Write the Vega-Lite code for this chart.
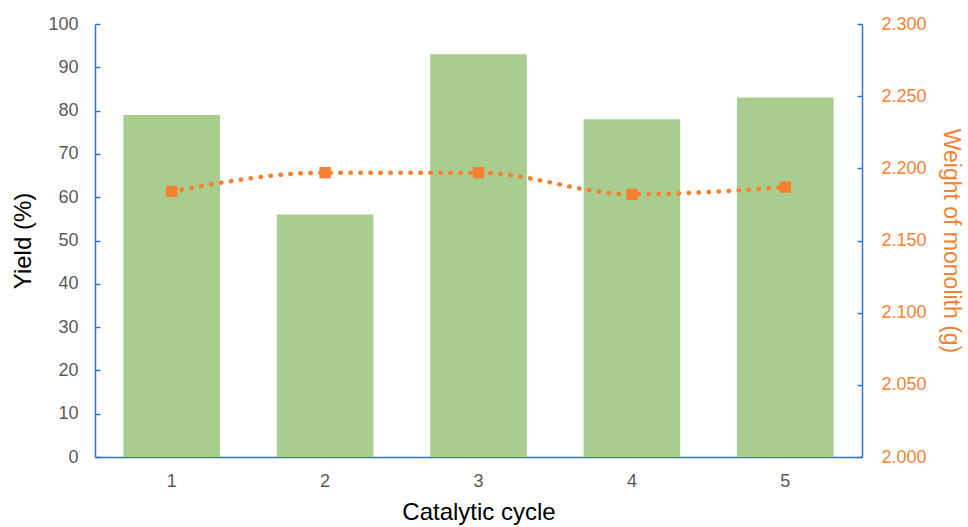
{
  "$schema": "https://vega.github.io/schema/vega-lite/v6.json",
  "width": 767,
  "height": 433,
  "autosize": {"type": "none"},
  "padding": {"left": 95, "top": 24, "right": 106, "bottom": 70},
  "background": "white",
  "config": {
    "view": {"stroke": null},
    "font": "Liberation Sans",
    "axis": {"grid": false, "labelFont": "Liberation Sans", "titleFont": "Liberation Sans", "titleFontWeight": "normal"}
  },
  "data": {
    "values": [
      {"cycle": "1", "yield": 79, "weight": 2.184},
      {"cycle": "2", "yield": 56, "weight": 2.197},
      {"cycle": "3", "yield": 93, "weight": 2.197},
      {"cycle": "4", "yield": 78, "weight": 2.182},
      {"cycle": "5", "yield": 83, "weight": 2.187}
    ]
  },
  "encoding": {
    "x": {
      "field": "cycle",
      "type": "ordinal",
      "scale": {"paddingInner": 0.37, "paddingOuter": 0.185},
      "axis": {
        "title": "Catalytic cycle",
        "labelAngle": 0,
        "labelFontSize": 18,
        "labelColor": "#595959",
        "labelPadding": 15,
        "ticks": false,
        "domainColor": "#3071D1",
        "domainWidth": 1.5,
        "titleFontSize": 24,
        "titleColor": "#000000",
        "titlePadding": 10
      }
    }
  },
  "layer": [
    {
      "mark": {"type": "bar", "color": "#A9CD8F"},
      "encoding": {
        "y": {
          "field": "yield",
          "type": "quantitative",
          "scale": {"domain": [0, 100], "nice": false},
          "axis": {
            "title": "Yield (%)",
            "values": [0, 10, 20, 30, 40, 50, 60, 70, 80, 90, 100],
            "labelFontSize": 18,
            "labelColor": "#595959",
            "tickSize": -5,
            "tickColor": "#3071D1",
            "tickWidth": 1.5,
            "labelPadding": 22,
            "domainColor": "#3071D1",
            "domainWidth": 1.5,
            "titleFontSize": 24,
            "titleColor": "#000000",
            "titlePadding": 12
          }
        }
      }
    },
    {
      "encoding": {
        "y": {
          "field": "weight",
          "type": "quantitative",
          "scale": {"domain": [2.0, 2.3], "nice": false, "zero": false},
          "axis": {
            "orient": "right",
            "title": "Weight of monolith (g)",
            "values": [2.0, 2.05, 2.1, 2.15, 2.2, 2.25, 2.3],
            "format": ".3f",
            "labelFontSize": 18,
            "labelColor": "#F58233",
            "tickSize": -5,
            "tickColor": "#3071D1",
            "tickWidth": 1.5,
            "labelPadding": 24,
            "domainColor": "#3071D1",
            "domainWidth": 1.5,
            "titleFontSize": 23,
            "titleColor": "#F58233",
            "titlePadding": 12
          }
        }
      },
      "layer": [
        {"mark": {"type": "line", "color": "#F7812F", "strokeWidth": 4.5, "strokeDash": [0.5, 9.5], "strokeCap": "round", "interpolate": "monotone"}},
        {"mark": {"type": "point", "shape": "square", "filled": true, "color": "#F7812F", "size": 130, "opacity": 1}}
      ]
    }
  ],
  "resolve": {"scale": {"y": "independent"}}
}
